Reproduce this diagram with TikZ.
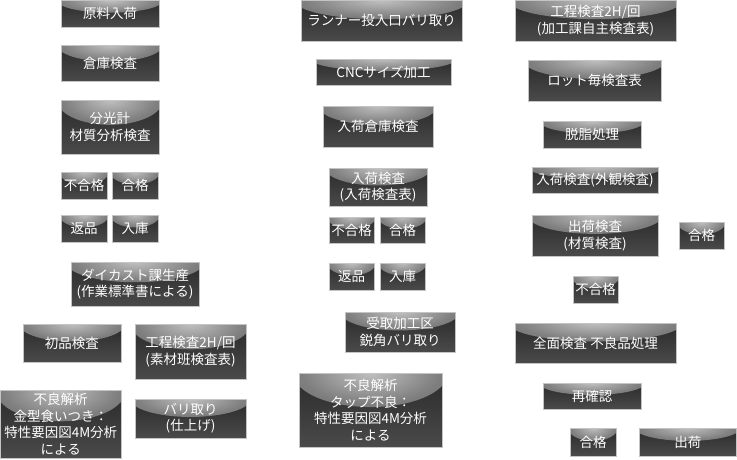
\documentclass[tikz,border=0pt]{standalone}
\usepackage{fontspec}
\newfontfamily\jp{Noto Sans CJK JP}
\usetikzlibrary{calc}
\definecolor{boxedge}{HTML}{C4C4C4}
\definecolor{boxtop}{HTML}{2A2A2A}
\definecolor{boxbot}{HTML}{4A4A4A}
\pgfdeclareradialshading{glow}{\pgfpoint{0bp}{0bp}}{%
  color(0bp)=(black!25); color(22bp)=(black!50); color(50bp)=(black!67)}
\tikzset{
  box/.style={draw=boxedge, line width=0.9pt, text=white, align=center,
    inner sep=0pt, font=\jp\fontsize{13.5}{16.5}\selectfont,
    path picture={
      \shade[top color=boxtop, bottom color=boxbot]
        (path picture bounding box.south west) rectangle (path picture bounding box.north east);
      \shade[shading=glow] let \p1=(path picture bounding box.south west),
        \p2=(path picture bounding box.north east),
        \n1={\x2-\x1}, \n2={\y2-\y1} in
        (path picture bounding box.north) ellipse [x radius={0.54*\n1*1pt}, y radius={0.46*\n2*1pt}];
    }}
}
\newcommand{\bx}[6]{%
  \node[box, minimum width={#4pt-#2pt}, minimum height={#5pt-#3pt}]
    (#1) at ({(#2+#4)/2},{(#3+#5)/2}) {#6};}
\begin{document}
\begin{tikzpicture}[x=1pt,y=-1pt]
\fill[white] (0,0) rectangle (737,459);
\useasboundingbox (0,0) rectangle (737,459);
% left column
\bx{a1}{61}{0.5}{159}{27}{原料入荷}
\bx{a2}{61}{45}{159}{81}{倉庫検査}
\bx{a3}{61}{100}{159}{154}{分光計\\材質分析検査}
\bx{a4}{61}{172}{107}{199}{不合格}
\bx{a5}{112}{172}{158}{199}{合格}
\bx{a6}{61}{215}{107}{242}{返品}
\bx{a7}{112}{215}{158}{242}{入庫}
\bx{a8}{71}{262}{199}{306}{ダイカスト課生産\\(作業標準書による)}
\bx{a9}{23}{324}{121}{362}{初品検査}
\bx{a10}{135}{324}{246}{379}{工程検査2H/回\\(素材班検査表)}
\bx{a11}{0.5}{390}{121}{458}{不良解析\\金型食いつき：\\特性要因図4M分析\\による}
\bx{a12}{135}{399}{246}{438}{バリ取り\\(仕上げ)}
% middle column
\bx{b1}{301}{0.5}{462}{41}{ランナー投入口バリ取り}
\bx{b2}{316}{59}{451}{85}{CNCサイズ加工}
\bx{b3}{323}{106}{433}{147}{入荷倉庫検査}
\bx{b4}{329}{168}{427}{206}{入荷検査\\(入荷検査表)}
\bx{b5}{329}{217}{374}{243}{不合格}
\bx{b6}{380}{217}{425}{243}{合格}
\bx{b7}{329}{263}{374}{290}{返品}
\bx{b8}{380}{263}{425}{290}{入庫}
\bx{b9}{345}{312}{455}{352}{受取加工区\\鋭角バリ取り}
\bx{b10}{299}{373}{442}{447}{不良解析\\タップ不良：\\特性要因図4M分析\\による}
% right column
\bx{c1}{515}{0.5}{676}{41}{工程検査2H/回\\(加工課自主検査表)}
\bx{c2}{528}{60}{661}{101}{ロット毎検査表}
\bx{c3}{543}{121}{641}{148}{脱脂処理}
\bx{c4}{532}{167}{658}{193}{入荷検査(外観検査)}
\bx{c5}{532}{215}{658}{256}{出荷検査\\(材質検査)}
\bx{c6}{679}{222}{724}{249}{合格}
\bx{c7}{573}{276}{618}{303}{不合格}
\bx{c8}{515}{323}{676}{363}{全面検査 不良品処理}
\bx{c9}{543}{383}{641}{409}{再確認}
\bx{c10}{570}{428}{616}{456}{合格}
\bx{c11}{639}{428}{736.5}{456}{出荷}
\end{tikzpicture}
\end{document}
